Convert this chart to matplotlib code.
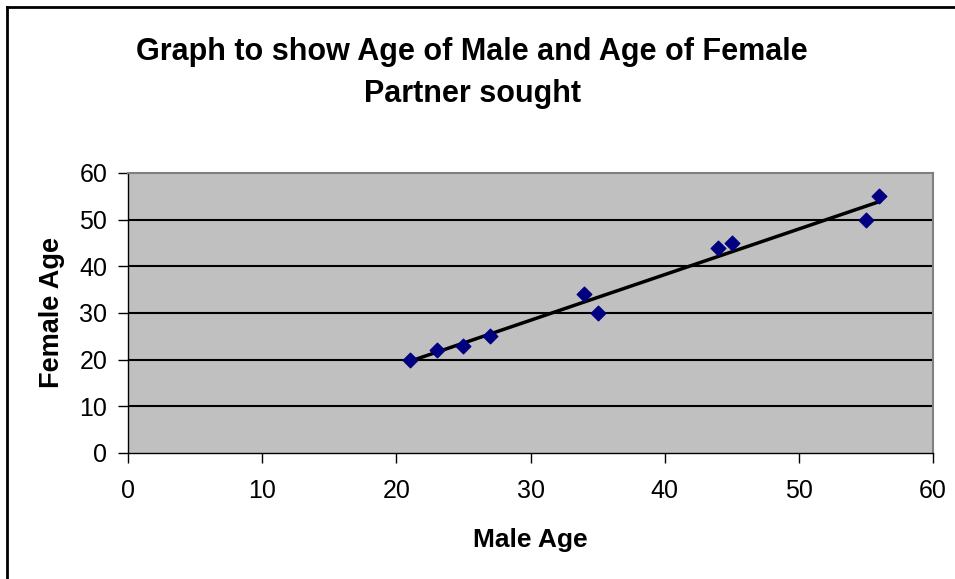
import numpy as np
import matplotlib.pyplot as plt
from matplotlib.lines import Line2D

plt.rcParams['font.family'] = ['Liberation Sans', 'DejaVu Sans']

male_age = [21, 23, 25, 27, 34, 35, 44, 45, 55, 56]
female_age = [20, 22, 23, 25, 34, 30, 44, 45, 50, 55]
ticks = [0, 10, 20, 30, 40, 50, 60]

fig = plt.figure(figsize=(9.55, 5.79), dpi=100)
ax = fig.add_axes([128 / 955, 1 - 453 / 579, 805 / 955, 280 / 579])
ax.set_facecolor('#c0c0c0')

for t in ticks[1:-1]:
    ax.axhline(t, color='black', lw=1.5, zorder=1)

# linear trend line across the data range
k, b = np.polyfit(male_age, female_age, 1)
xs = np.array([min(male_age), max(male_age)])
ax.plot(xs, k * xs + b, color='black', lw=2.5, zorder=2)

ax.scatter(male_age, female_age, marker='D', s=55, color='#000080', zorder=3)

ax.set_xlim(0, 60)
ax.set_ylim(0, 60)
ax.set_xticks(ticks)
ax.set_yticks(ticks)
ax.tick_params(labelsize=18, length=7, width=1, color='black', direction='out')
ax.tick_params(axis='x', pad=12)
ax.tick_params(axis='y', pad=8)

for side in ['top', 'right']:
    ax.spines[side].set_color('#808080')
    ax.spines[side].set_linewidth(1.5)
for side in ['left', 'bottom']:
    ax.spines[side].set_color('black')
    ax.spines[side].set_linewidth(1)

ax.set_xlabel('Male Age', fontsize=19, fontweight='bold', labelpad=18)
ax.set_ylabel('Female Age', fontsize=19.5, fontweight='bold', labelpad=10)

fig.text(472 / 955, 1 - 73 / 579, 'Graph to show Age of Male and Age of Female\nPartner sought',
         ha='center', va='center', fontsize=22, fontweight='bold', linespacing=1.55)

# chart frame: only the left and top edges fall inside the image
fig.add_artist(Line2D([6.5 / 955, 6.5 / 955], [0, 1 - 7 / 579], color='black', lw=2,
                      transform=fig.transFigure))
fig.add_artist(Line2D([6.5 / 955, 1], [1 - 7 / 579, 1 - 7 / 579], color='black', lw=2,
                      transform=fig.transFigure))

fig.savefig('out.png', dpi=100)
